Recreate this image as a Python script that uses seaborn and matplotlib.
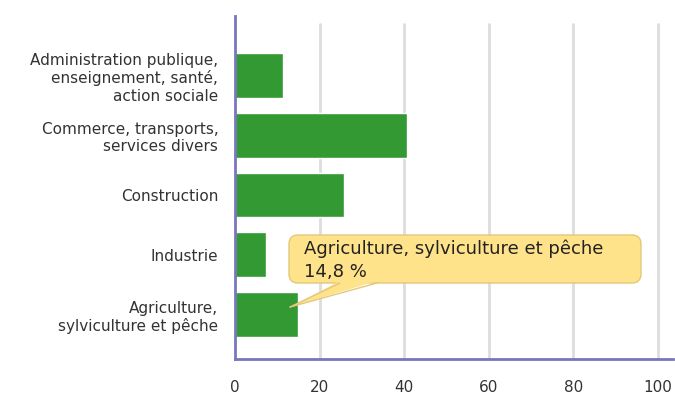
import pandas as pd
import seaborn as sns
import matplotlib.pyplot as plt
from matplotlib.patches import FancyBboxPatch, Polygon
from matplotlib.transforms import Affine2D

sectors = [
    "Administration publique,\nenseignement, santé,\naction sociale",
    "Commerce, transports,\nservices divers",
    "Construction",
    "Industrie",
    "Agriculture,\nsylviculture et pêche",
]
shares = [11.3, 40.7, 25.8, 7.3, 14.8]
x_ticks = [0, 20, 40, 60, 80, 100]

tip_title = "Agriculture, sylviculture et pêche"
tip_value = "14,8 %"

sns.set_style("white")
plt.rcParams["font.family"] = ["DejaVu Sans"]

data = pd.DataFrame({"sector": sectors, "share": shares})

fig = plt.figure(figsize=(6.75, 4.05), dpi=100)
ax = fig.add_axes([235 / 675, 46 / 405, 438 / 675, 343 / 405])

sns.barplot(data=data, x="share", y="sector", orient="h", color="#339933",
            saturation=1, width=0.75, ax=ax, zorder=3)

ax.set_xlim(0, 103.6)
ax.set_ylim(4.744, -0.995)
ax.set_xticks(x_ticks)
ax.set_xticklabels([str(t) for t in x_ticks])
ax.set_xlabel("")
ax.set_ylabel("")

# vertical grid, stopping a bit below the top of the axis line
for t in x_ticks[1:]:
    ax.axvline(t, ymin=0, ymax=1 - 8 / 343, color="#dddddd", lw=2, zorder=1)

for side in ["top", "right"]:
    ax.spines[side].set_visible(False)
for side in ["left", "bottom"]:
    ax.spines[side].set_color("#7777bb")
    ax.spines[side].set_linewidth(2)
    ax.spines[side].set_zorder(5)

ax.tick_params(axis="x", colors="#dddddd", width=2, length=7, pad=8, labelcolor="#333333", labelsize=11)
ax.tick_params(axis="y", length=0, pad=12, labelcolor="#333333", labelsize=11)
for lbl in ax.get_yticklabels():
    lbl.set_multialignment("right")
    lbl.set_linespacing(1.2)

# tooltip, placed in image pixels (origin top-left)
px = Affine2D().scale(1 / 675, -1 / 405).translate(0, 1) + fig.transFigure
tip_fc, tip_ec = "#ffe38a", "#e3c77a"
box = FancyBboxPatch((289, 235), 352, 48, boxstyle="round,pad=0,rounding_size=9",
                     fc=tip_fc, ec=tip_ec, lw=1, transform=px, zorder=10, clip_on=False)
fig.add_artist(box)
pointer = Polygon([(340, 281), (377, 281), (290, 307)], closed=True, fc=tip_fc, ec="none",
                  transform=px, zorder=11, clip_on=False)
fig.add_artist(pointer)
for (xa, ya) in [(340, 283), (377, 283)]:
    fig.add_artist(plt.Line2D([xa, 290], [ya, 307], color=tip_ec, lw=1, transform=px, zorder=12))

fig.text(304, 254, tip_title, transform=px, fontsize=13, color="#222222", zorder=13)
fig.text(304, 277, tip_value, transform=px, fontsize=13, color="#222222", zorder=13)

fig.savefig("out.png", dpi=100)
